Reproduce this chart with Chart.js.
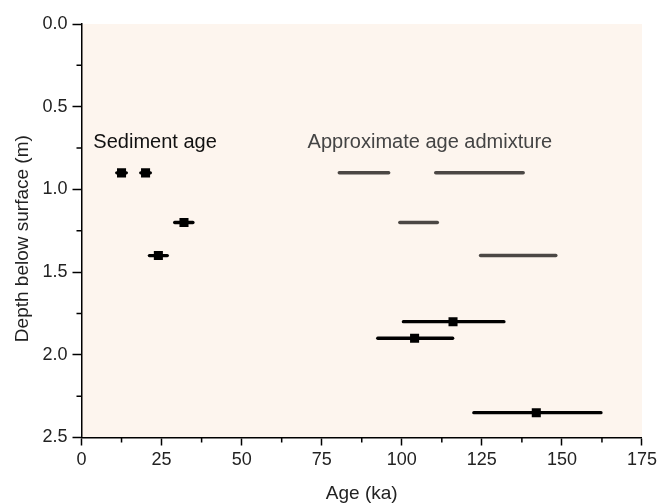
<!DOCTYPE html>
<html>
<head>
<meta charset="utf-8">
<script src="https://cdn.jsdelivr.net/npm/chart.js@4/dist/chart.umd.min.js"></script>
<style>
  html, body { margin: 0; padding: 0; background: #fff; }
  canvas { display: block; }
</style>
</head>
<body>
<canvas id="Grafico_Edad" width="661" height="503"></canvas>
<script>
// Sediment ages (ka) with depth (m) and error range
const sedAge = [12.5, 20, 32, 24, 116, 104, 142];
const sedDepth = [0.9, 0.9, 1.2, 1.4, 1.8, 1.9, 2.35];
const sedLow = [11, 18.5, 29.1, 21.2, 100.5, 92.5, 122.5];
const sedHigh = [14, 21.5, 34.8, 26.8, 131.9, 115.9, 162.2];

// Approximate age admixture ranges (ka)
const admixDepth = [0.9, 0.9, 1.2, 1.4];
const admixStart = [80.5, 110.6, 99.4, 124.6];
const admixEnd = [95.9, 137.9, 111.1, 148.1];

const xTicks = [0, 25, 50, 75, 100, 125, 150, 175];
const yTicks = [0.0, 0.5, 1.0, 1.5, 2.0, 2.5];

const notes = [
  { text: "Sediment age", x: 3.7, y: 0.75, color: "#111" },
  { text: "Approximate age admixture", x: 70.6, y: 0.75, color: "#444" }
];

const FONT = "'Liberation Sans', Arial, sans-serif";

document.addEventListener("DOMContentLoaded", () => {
  const lienzo = document.getElementById("Grafico_Edad");

  const datasets = [];
  admixDepth.forEach((d, i) => {
    datasets.push({
      data: [{ x: admixStart[i], y: d }, { x: admixEnd[i], y: d }],
      showLine: true,
      borderColor: "#4b4744",
      borderWidth: 3.5,
      borderCapStyle: "round",
      pointRadius: 0
    });
  });
  sedDepth.forEach((d, i) => {
    datasets.push({
      data: [{ x: sedLow[i], y: d }, { x: sedHigh[i], y: d }],
      showLine: true,
      borderColor: "#000",
      borderWidth: 3.3,
      borderCapStyle: "round",
      pointRadius: 0
    });
  });
  datasets.push({
    label: "Sediment age",
    data: sedAge.map((a, i) => ({ x: a, y: sedDepth[i] })),
    pointStyle: "rect",
    pointRadius: 6.4,
    backgroundColor: "#000",
    borderColor: "#000",
    borderWidth: 0
  });

  // fondo del area y marcas menores
  const extras = {
    id: "extras",
    beforeDraw(chart) {
      const a = chart.chartArea;
      const ctx = chart.ctx;
      ctx.save();
      ctx.fillStyle = "#fdf5ee";
      ctx.fillRect(a.left, a.top, a.right - a.left, a.bottom - a.top);
      ctx.restore();
    },
    afterDraw(chart) {
      const ctx = chart.ctx;
      const xs = chart.scales.x, ys = chart.scales.y;
      const a = chart.chartArea;
      ctx.save();
      ctx.strokeStyle = "#000";
      ctx.lineWidth = 1.5;
      ctx.beginPath();
      for (let i = 0; i < xTicks.length - 1; i++) {
        const px = xs.getPixelForValue((xTicks[i] + xTicks[i + 1]) / 2);
        ctx.moveTo(px, a.bottom);
        ctx.lineTo(px, a.bottom + 5);
      }
      for (let i = 0; i < yTicks.length - 1; i++) {
        const py = ys.getPixelForValue((yTicks[i] + yTicks[i + 1]) / 2);
        ctx.moveTo(a.left, py);
        ctx.lineTo(a.left - 5, py);
      }
      ctx.stroke();
      ctx.font = "20px " + FONT;
      ctx.textBaseline = "alphabetic";
      ctx.textAlign = "left";
      notes.forEach(n => {
        ctx.fillStyle = n.color;
        ctx.fillText(n.text, xs.getPixelForValue(n.x), ys.getPixelForValue(n.y));
      });
      ctx.restore();
    }
  };

  new Chart(lienzo.getContext("2d"), {
    type: "scatter",
    data: { datasets: datasets },
    options: {
      responsive: false,
      animation: false,
      layout: { padding: { top: 24, right: 17, bottom: 0, left: 0 } },
      plugins: {
        legend: { display: false },
        tooltip: { enabled: false }
      },
      scales: {
        x: {
          type: "linear",
          min: 0,
          max: 175,
          afterBuildTicks: s => { s.ticks = xTicks.map(v => ({ value: v })); },
          afterFit: s => { s.height = 65.5; },
          ticks: { color: "#222", font: { family: FONT, size: 18 }, padding: 4, maxRotation: 0 },
          grid: { drawOnChartArea: false, drawTicks: true, tickLength: 8, tickColor: "#000", tickWidth: 1.5 },
          border: { display: true, color: "#000", width: 1.5 },
          title: { display: true, text: "Age (ka)", color: "#222", font: { family: FONT, size: 19, lineHeight: 1.0 }, padding: { top: 0, bottom: 0 } }
        },
        y: {
          type: "linear",
          reverse: true,
          min: 0,
          max: 2.5,
          afterBuildTicks: s => { s.ticks = yTicks.map(v => ({ value: v })); },
          afterFit: s => { s.width = 81.5; },
          ticks: { color: "#222", font: { family: FONT, size: 18 }, padding: 5, callback: v => v.toFixed(1) },
          grid: { drawOnChartArea: false, drawTicks: true, tickLength: 9, tickColor: "#000", tickWidth: 1.5 },
          border: { display: true, color: "#000", width: 1.5 },
          title: { display: true, text: "Depth below surface (m)   ", color: "#222", font: { family: FONT, size: 19 }, padding: { top: 11, bottom: 0 } }
        }
      }
    },
    plugins: [extras]
  });
});
</script>
</body>
</html>
